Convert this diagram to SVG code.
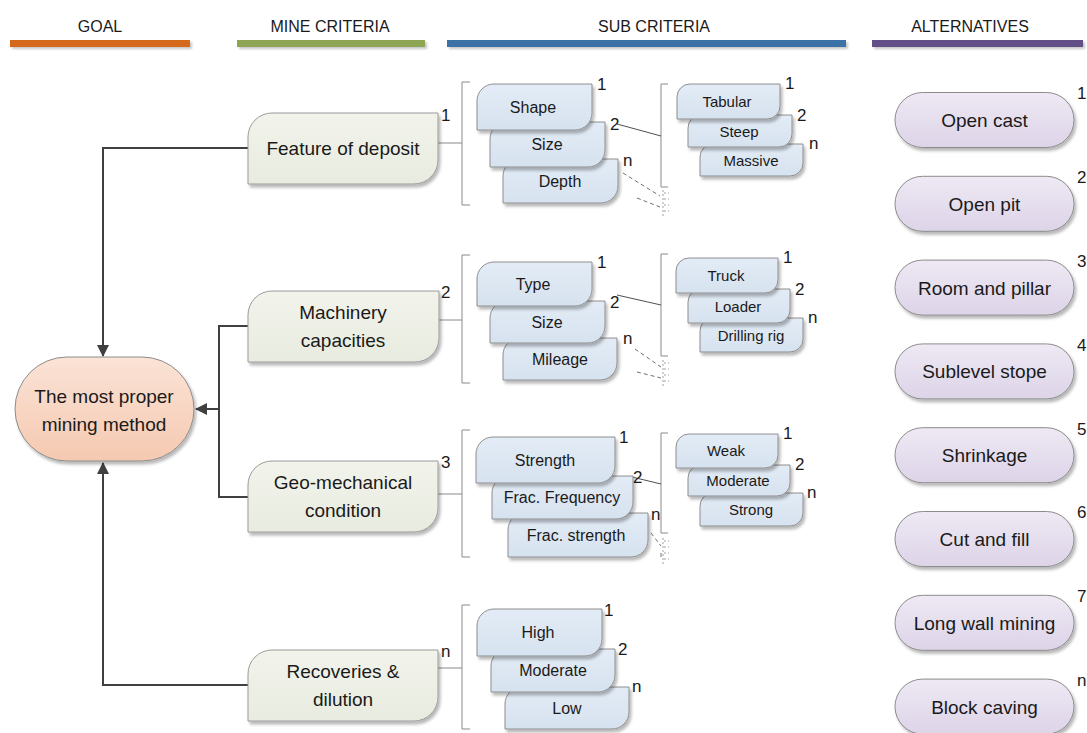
<svg xmlns="http://www.w3.org/2000/svg" width="1087" height="733" viewBox="0 0 1087 733">
  <defs>
    <filter id="shadow" x="-10%" y="-10%" width="125%" height="135%">
      <feDropShadow dx="2" dy="3" stdDeviation="1.4" flood-color="#000" flood-opacity="0.28"/>
    </filter>
    <filter id="barShadow" x="-2%" y="-50%" width="104%" height="250%">
      <feDropShadow dx="2" dy="2" stdDeviation="0.8" flood-color="#000" flood-opacity="0.22"/>
    </filter>
    <linearGradient id="gGoal" x1="0" y1="0" x2="0" y2="1">
      <stop offset="0" stop-color="#fbe3d6"/>
      <stop offset="1" stop-color="#f5c9b1"/>
    </linearGradient>
    <linearGradient id="gCrit" x1="0" y1="0" x2="0" y2="1">
      <stop offset="0" stop-color="#f2f4ec"/>
      <stop offset="1" stop-color="#e8ebdf"/>
    </linearGradient>
    <linearGradient id="gSub" x1="0" y1="0" x2="0" y2="1">
      <stop offset="0" stop-color="#e3ecf6"/>
      <stop offset="1" stop-color="#d6e2ef"/>
    </linearGradient>
    <linearGradient id="gAlt" x1="0" y1="0" x2="0" y2="1">
      <stop offset="0" stop-color="#eee9f4"/>
      <stop offset="1" stop-color="#ddd4e8"/>
    </linearGradient>
    <marker id="arrow" viewBox="0 0 12 12" refX="11" refY="6" markerWidth="12" markerHeight="12" markerUnits="userSpaceOnUse" orient="auto">
      <path d="M0,0 L12,6 L0,12 Z" fill="#404040"/>
    </marker>
  </defs>
  <style>
    text { font-family: "Liberation Sans", Arial, sans-serif; fill: #1a1a1a; }
    .hdr { font-size: 16px; text-anchor: middle; }
    .big { font-size: 19px; text-anchor: middle; }
    .sub { font-size: 16px; text-anchor: middle; }
    .sm { font-size: 15px; text-anchor: middle; }
    .num { font-size: 17px; }
    .goal { fill: url(#gGoal); stroke: #8c8c8c; stroke-width: 1; filter: url(#shadow); }
    .crit { fill: url(#gCrit); stroke: #9a9a9a; stroke-width: 1; filter: url(#shadow); }
    .subc { fill: url(#gSub); stroke: #8e8e8e; stroke-width: 1; filter: url(#shadow); }
    .alt { fill: url(#gAlt); stroke: #8c8c8c; stroke-width: 1; filter: url(#shadow); }
    .flow { fill: none; stroke: #404040; stroke-width: 2; }
    .thin { fill: none; stroke: #8a8a8a; stroke-width: 1; }
    .link { fill: none; stroke: #505050; stroke-width: 1; }
    .dash { fill: none; stroke: #707070; stroke-width: 1; stroke-dasharray: 4 3; }
    .tick { fill: none; stroke: #a0a0a0; stroke-width: 1; stroke-dasharray: 2 2; }
  </style>

  <!-- column headings -->
  <g id="headers">
    <text class="hdr" x="100" y="32">GOAL</text>
    <text class="hdr" x="330" y="32">MINE CRITERIA</text>
    <text class="hdr" x="654" y="32">SUB CRITERIA</text>
    <text class="hdr" x="970" y="32">ALTERNATIVES</text>
    <g filter="url(#barShadow)">
      <rect x="10" y="40" width="180" height="7" fill="#d4691e"/>
      <rect x="237" y="40" width="188" height="7" fill="#8ea553"/>
      <rect x="447" y="40" width="399" height="7" fill="#3e72a6"/>
      <rect x="872" y="40" width="211" height="7" fill="#634f87"/>
    </g>
  </g>

  <!-- connectors -->
  <g id="connectors">
    <!-- criteria to goal -->
    <path class="flow" d="M248,148 H103 V356" marker-end="url(#arrow)"/>
    <path class="flow" d="M248,326 H219 V497 H248"/>
    <path class="flow" d="M219,409 H196" marker-end="url(#arrow)"/>
    <path class="flow" d="M248,685 H103 V463" marker-end="url(#arrow)"/>

    <!-- criteria to sub-criteria brackets -->
    <path class="thin" d="M438,143 H462"/>
    <path class="thin" d="M439,320 H462"/>
    <path class="thin" d="M438,494 H462"/>
    <path class="thin" d="M438,668 H462"/>

    <!-- first-level brackets -->
    <path class="thin" d="M470,82 H462 V205 H470"/>
    <path class="thin" d="M470,255 H462 V383 H470"/>
    <path class="thin" d="M470,430 H462 V557 H470"/>
    <path class="thin" d="M470,605 H462 V729 H470"/>

    <!-- second-level brackets -->
    <path class="thin" d="M668,84 H661 V187 H668"/>
    <path class="thin" d="M668,254 H661 V356 H668"/>
    <path class="thin" d="M668,433 H661 V533 H668"/>

    <!-- item 2 to its breakdown -->
    <path class="link" d="M617,124 L661,136"/>
    <path class="link" d="M617,295 L661,305"/>
    <path class="link" d="M632,477 L661,484"/>

    <!-- item n, open-ended breakdowns -->
    <path class="dash" d="M623,173 L660,196"/>
    <path class="dash" d="M637,198 L660,207"/>
    <path class="tick" d="M663,190 V216 M664,193 H669 M664,199 H669 M664,205 H669 M664,211 H669"/>
    <path class="dash" d="M635,349 L661,367"/>
    <path class="dash" d="M637,372 L661,378"/>
    <path class="tick" d="M663,360 V386 M664,363 H669 M664,369 H669 M664,375 H669 M664,381 H669"/>
    <path class="dash" d="M651,533 L661,546"/>
    <path class="dash" d="M661,553 L661,560"/>
    <path class="tick" d="M663,538 V564 M664,541 H669 M664,547 H669 M664,553 H669 M664,559 H669"/>
  </g>

  <!-- goal -->
  <g id="goal">
    <rect class="goal" x="15" y="357" width="179" height="104" rx="52" ry="52"/>
    <text class="big" x="104" y="403">The most proper</text>
    <text class="big" x="104" y="431">mining method</text>
  </g>

  <!-- mine criteria -->
  <g id="crit-deposit">
    <path class="crit" d="M248,184 V137 A24,24 0 0 1 272,113 H438 V160 A24,24 0 0 1 414,184 Z"/>
    <text class="big" x="343" y="155">Feature of deposit</text>
    <text class="num" x="441" y="121">1</text>
  </g>
  <g id="crit-machinery">
    <path class="crit" d="M248,362 V315 A24,24 0 0 1 272,291 H439 V338 A24,24 0 0 1 415,362 Z"/>
    <text class="big" x="343" y="319">Machinery</text>
    <text class="big" x="343" y="347">capacities</text>
    <text class="num" x="441" y="298">2</text>
  </g>
  <g id="crit-geomech">
    <path class="crit" d="M248,532 V485 A24,24 0 0 1 272,461 H438 V508 A24,24 0 0 1 414,532 Z"/>
    <text class="big" x="343" y="489">Geo-mechanical</text>
    <text class="big" x="343" y="517">condition</text>
    <text class="num" x="441" y="468">3</text>
  </g>
  <g id="crit-recovery">
    <path class="crit" d="M248,721 V674 A24,24 0 0 1 272,650 H438 V697 A24,24 0 0 1 414,721 Z"/>
    <text class="big" x="343" y="678">Recoveries &amp;</text>
    <text class="big" x="343" y="706">dilution</text>
    <text class="num" x="441" y="657">n</text>
  </g>

  <!-- sub criteria: feature of deposit -->
  <g id="sub-deposit">
    <path class="subc" d="M503,203 V176 A17,17 0 0 1 520,159 H618 V186 A17,17 0 0 1 601,203 Z"/>
    <text class="sub" x="560" y="187">Depth</text>
    <path class="subc" d="M490,167 V139 A17,17 0 0 1 507,122 H605 V150 A17,17 0 0 1 588,167 Z"/>
    <text class="sub" x="547" y="150">Size</text>
    <path class="subc" d="M477,130 V101 A17,17 0 0 1 494,84 H592 V113 A17,17 0 0 1 575,130 Z"/>
    <text class="sub" x="533" y="113">Shape</text>
    <text class="num" x="597" y="90">1</text>
    <text class="num" x="610" y="130">2</text>
    <text class="num" x="623" y="166">n</text>
  </g>
  <g id="sub-deposit-shape">
    <path class="subc" d="M700,176 V157 A13,13 0 0 1 713,144 H803 V163 A13,13 0 0 1 790,176 Z"/>
    <text class="sm" x="751" y="166">Massive</text>
    <path class="subc" d="M688,147 V128 A13,13 0 0 1 701,115 H792 V134 A13,13 0 0 1 779,147 Z"/>
    <text class="sm" x="739" y="137">Steep</text>
    <path class="subc" d="M677,119 V97 A13,13 0 0 1 690,84 H780 V106 A13,13 0 0 1 767,119 Z"/>
    <text class="sm" x="727" y="107">Tabular</text>
    <text class="num" x="785" y="89">1</text>
    <text class="num" x="797" y="121">2</text>
    <text class="num" x="809" y="149">n</text>
  </g>

  <!-- sub criteria: machinery -->
  <g id="sub-machinery">
    <path class="subc" d="M503,380 V355 A17,17 0 0 1 520,338 H617 V363 A17,17 0 0 1 600,380 Z"/>
    <text class="sub" x="560" y="365">Mileage</text>
    <path class="subc" d="M490,343 V318 A17,17 0 0 1 507,301 H605 V326 A17,17 0 0 1 588,343 Z"/>
    <text class="sub" x="547" y="328">Size</text>
    <path class="subc" d="M477,306 V279 A17,17 0 0 1 494,262 H592 V289 A17,17 0 0 1 575,306 Z"/>
    <text class="sub" x="533" y="290">Type</text>
    <text class="num" x="597" y="268">1</text>
    <text class="num" x="610" y="308">2</text>
    <text class="num" x="623" y="344">n</text>
  </g>
  <g id="sub-machinery-type">
    <path class="subc" d="M700,352 V331 A13,13 0 0 1 713,318 H803 V339 A13,13 0 0 1 790,352 Z"/>
    <text class="sm" x="751" y="341">Drilling rig</text>
    <path class="subc" d="M688,323 V302 A13,13 0 0 1 701,289 H790 V310 A13,13 0 0 1 777,323 Z"/>
    <text class="sm" x="738" y="312">Loader</text>
    <path class="subc" d="M676,293 V271 A13,13 0 0 1 689,258 H778 V280 A13,13 0 0 1 765,293 Z"/>
    <text class="sm" x="726" y="281">Truck</text>
    <text class="num" x="783" y="263">1</text>
    <text class="num" x="795" y="295">2</text>
    <text class="num" x="808" y="323">n</text>
  </g>

  <!-- sub criteria: geo-mechanical -->
  <g id="sub-geomech">
    <path class="subc" d="M508,557 V530 A17,17 0 0 1 525,513 H648 V540 A17,17 0 0 1 631,557 Z"/>
    <text class="sub" x="576" y="541">Frac. strength</text>
    <path class="subc" d="M492,519 V493 A17,17 0 0 1 509,476 H633 V502 A17,17 0 0 1 616,519 Z"/>
    <text class="sub" x="562" y="503">Frac. Frequency</text>
    <path class="subc" d="M476,483 V454 A17,17 0 0 1 493,437 H615 V466 A17,17 0 0 1 598,483 Z"/>
    <text class="sub" x="545" y="466">Strength</text>
    <text class="num" x="619" y="443">1</text>
    <text class="num" x="633" y="483">2</text>
    <text class="num" x="651" y="520">n</text>
  </g>
  <g id="sub-geomech-strength">
    <path class="subc" d="M700,526 V506 A13,13 0 0 1 713,493 H803 V513 A13,13 0 0 1 790,526 Z"/>
    <text class="sm" x="751" y="515">Strong</text>
    <path class="subc" d="M688,496 V478 A13,13 0 0 1 701,465 H790 V483 A13,13 0 0 1 777,496 Z"/>
    <text class="sm" x="738" y="486">Moderate</text>
    <path class="subc" d="M676,468 V447 A13,13 0 0 1 689,434 H778 V455 A13,13 0 0 1 765,468 Z"/>
    <text class="sm" x="726" y="456">Weak</text>
    <text class="num" x="783" y="439">1</text>
    <text class="num" x="795" y="470">2</text>
    <text class="num" x="807" y="498">n</text>
  </g>

  <!-- sub criteria: recoveries -->
  <g id="sub-recovery">
    <path class="subc" d="M505,729 V704 A17,17 0 0 1 522,687 H629 V712 A17,17 0 0 1 612,729 Z"/>
    <text class="sub" x="567" y="714">Low</text>
    <path class="subc" d="M491,692 V666 A17,17 0 0 1 508,649 H615 V675 A17,17 0 0 1 598,692 Z"/>
    <text class="sub" x="553" y="676">Moderate</text>
    <path class="subc" d="M477,656 V626 A17,17 0 0 1 494,609 H602 V639 A17,17 0 0 1 585,656 Z"/>
    <text class="sub" x="538" y="638">High</text>
    <text class="num" x="604" y="616">1</text>
    <text class="num" x="618" y="655">2</text>
    <text class="num" x="632" y="692">n</text>
  </g>

  <!-- alternatives -->
  <g id="alt-1">
    <rect class="alt" x="895" y="92.5" width="179" height="55" rx="27.5"/>
    <text class="big" x="984.5" y="127">Open cast</text>
    <text class="num" x="1077" y="99">1</text>
  </g>
  <g id="alt-2">
    <rect class="alt" x="895" y="176.3" width="179" height="55" rx="27.5"/>
    <text class="big" x="984.5" y="211">Open pit</text>
    <text class="num" x="1077" y="183">2</text>
  </g>
  <g id="alt-3">
    <rect class="alt" x="895" y="260.1" width="179" height="55" rx="27.5"/>
    <text class="big" x="984.5" y="295">Room and pillar</text>
    <text class="num" x="1077" y="267">3</text>
  </g>
  <g id="alt-4">
    <rect class="alt" x="895" y="343.9" width="179" height="55" rx="27.5"/>
    <text class="big" x="984.5" y="378">Sublevel stope</text>
    <text class="num" x="1077" y="351">4</text>
  </g>
  <g id="alt-5">
    <rect class="alt" x="895" y="427.7" width="179" height="55" rx="27.5"/>
    <text class="big" x="984.5" y="462">Shrinkage</text>
    <text class="num" x="1077" y="435">5</text>
  </g>
  <g id="alt-6">
    <rect class="alt" x="895" y="511.5" width="179" height="55" rx="27.5"/>
    <text class="big" x="984.5" y="546">Cut and fill</text>
    <text class="num" x="1077" y="518">6</text>
  </g>
  <g id="alt-7">
    <rect class="alt" x="895" y="595.3" width="179" height="55" rx="27.5"/>
    <text class="big" x="984.5" y="630">Long wall mining</text>
    <text class="num" x="1077" y="602">7</text>
  </g>
  <g id="alt-n">
    <rect class="alt" x="895" y="679.1" width="179" height="55" rx="27.5"/>
    <text class="big" x="984.5" y="714">Block caving</text>
    <text class="num" x="1077" y="686">n</text>
  </g>
</svg>
